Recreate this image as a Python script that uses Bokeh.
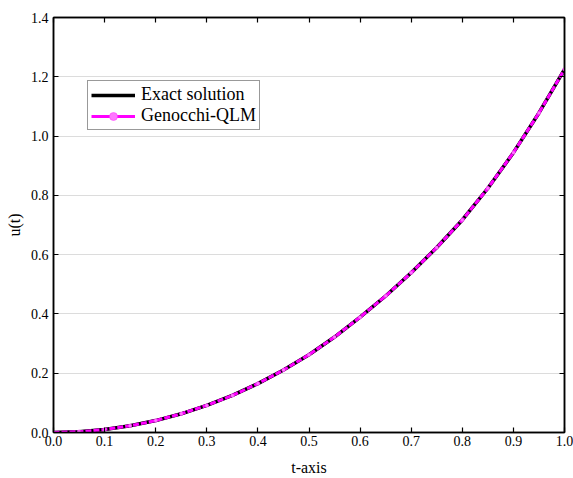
from bokeh.plotting import figure
from bokeh.models import (LinearAxis, Legend, LegendItem, FixedTicker, Range1d,
                          NumeralTickFormatter)
from bokeh.embed import file_html
from bokeh.resources import INLINE

t = [0.0, 0.05, 0.1, 0.15, 0.2, 0.25, 0.3, 0.35, 0.4, 0.45, 0.5,
     0.55, 0.6, 0.65, 0.7, 0.75, 0.8, 0.85, 0.9, 0.95, 1.0]
u_exact = [0.0, 0.0025, 0.010, 0.0226, 0.0402, 0.0631, 0.0914, 0.125, 0.165, 0.2106, 0.2625,
           0.322, 0.389, 0.4605, 0.539, 0.624, 0.717, 0.824, 0.944, 1.078, 1.225]
u_genocchi = [0.0, 0.0025, 0.010, 0.0226, 0.0402, 0.0631, 0.0914, 0.125, 0.165, 0.2106, 0.2625,
              0.322, 0.389, 0.4605, 0.539, 0.624, 0.717, 0.824, 0.944, 1.078, 1.225]
x_ticks = [0.0, 0.1, 0.2, 0.3, 0.4, 0.5, 0.6, 0.7, 0.8, 0.9, 1.0]
y_ticks = [0.0, 0.2, 0.4, 0.6, 0.8, 1.0, 1.2, 1.4]

FONT = "Liberation Serif"

p = figure(width=573, height=478, output_backend="svg", toolbar_location=None,
           x_range=Range1d(0, 1.0), y_range=Range1d(0, 1.4),
           min_border_left=53, min_border_right=9, min_border_top=17, min_border_bottom=45,
           x_axis_label="t-axis", y_axis_label="u(t)")
p.background_fill_color = "white"
p.border_fill_color = "white"
p.outline_line_color = "black"
p.outline_line_width = 1.5

p.xgrid.visible = False
p.ygrid.grid_line_color = "#dcdcdc"
p.ygrid.grid_line_width = 1
p.ygrid.ticker = FixedTicker(ticks=y_ticks)

for ax, ticks in ((p.xaxis[0], x_ticks), (p.yaxis[0], y_ticks)):
    ax.ticker = FixedTicker(ticks=ticks)
    ax.formatter = NumeralTickFormatter(format="0.0")
    ax.major_tick_in = 5
    ax.major_tick_out = 0
    ax.minor_tick_in = 0
    ax.minor_tick_out = 0
    ax.axis_line_color = "black"
    ax.axis_line_width = 1.5
    ax.major_tick_line_width = 1.2
    ax.major_label_text_font = FONT
    ax.major_label_text_font_size = "14px"
    ax.major_label_text_color = "black"
    ax.axis_label_text_font = FONT
    ax.axis_label_text_font_size = "16px"
    ax.axis_label_text_font_style = "normal"
    ax.axis_label_text_color = "black"

p.xaxis[0].major_label_standoff = 3
p.xaxis[0].axis_label_standoff = 10
p.yaxis[0].major_label_standoff = 5
p.yaxis[0].axis_label_standoff = 5


def blank_axis(ticks):
    ax = LinearAxis(ticker=FixedTicker(ticks=ticks), major_tick_in=5, major_tick_out=0,
                    minor_tick_in=0, minor_tick_out=0, major_label_standoff=0,
                    axis_line_width=1.5, major_tick_line_width=1.2)
    ax.major_label_overrides = {tk: "" for tk in ticks}
    return ax


p.add_layout(blank_axis(x_ticks), "above")
p.add_layout(blank_axis(y_ticks), "right")

r_gen_solid = p.line(t, u_genocchi, line_color="#ff00ff", line_width=3)
r_exact = p.line(t, u_exact, line_color="black", line_width=3.5)
p.line(t, u_genocchi, line_color="#ff00ff", line_width=3, line_dash="6 2")
r_gen_m = p.scatter(t, u_genocchi, size=3.5, marker="circle", fill_color="#ff77ff",
                    line_color="#ff33ff", line_width=0.5)

legend = Legend(items=[LegendItem(label="Exact solution", renderers=[r_exact]),
                       LegendItem(label="Genocchi-QLM", renderers=[r_gen_solid, r_gen_m])],
                location=(34, 302))
legend.label_text_font = FONT
legend.label_text_font_size = "18px"
legend.label_text_color = "black"
legend.border_line_color = "#333333"
legend.border_line_width = 1
legend.background_fill_color = "white"
legend.background_fill_alpha = 1
legend.glyph_width = 44
legend.glyph_height = 20
legend.label_height = 21
legend.spacing = 0
legend.padding = 3
legend.margin = 0
legend.label_standoff = 6
p.add_layout(legend)

open("out.html", "w").write(file_html(p, INLINE))
